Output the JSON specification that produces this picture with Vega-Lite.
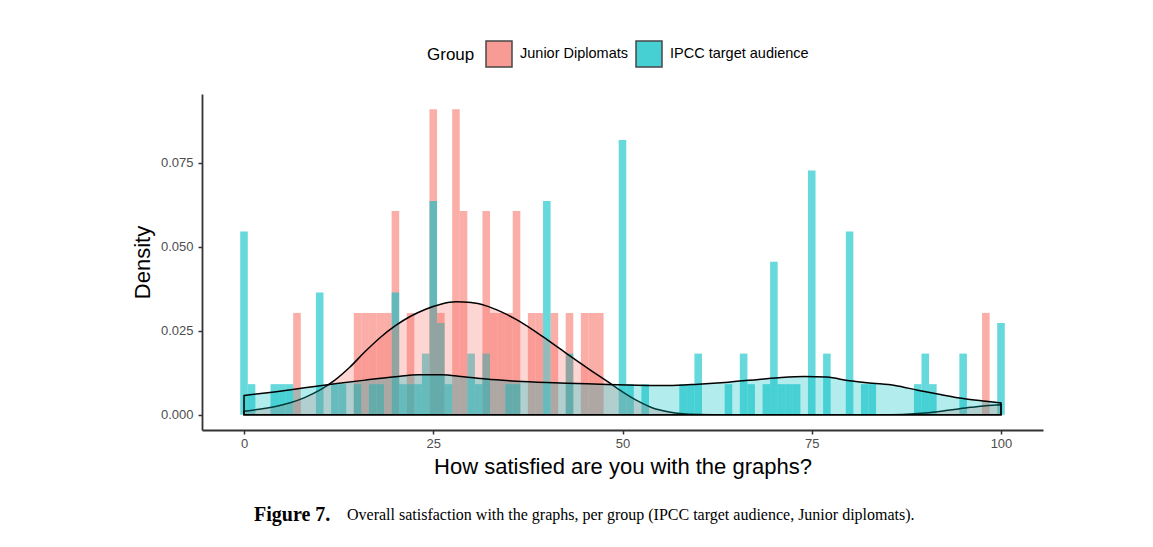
{
  "$schema": "https://vega.github.io/schema/vega-lite/v6.json",
  "background": "white",
  "padding": {"left": 131, "top": 40, "right": 5, "bottom": 5},
  "autosize": {"type": "pad"},
  "datasets": {
    "bars": [
      {"group": "Junior Diplomats", "score": 7, "density": 0.0303},
      {"group": "Junior Diplomats", "score": 15, "density": 0.0303},
      {"group": "Junior Diplomats", "score": 16, "density": 0.0303},
      {"group": "Junior Diplomats", "score": 17, "density": 0.0303},
      {"group": "Junior Diplomats", "score": 18, "density": 0.0303},
      {"group": "Junior Diplomats", "score": 19, "density": 0.0303},
      {"group": "Junior Diplomats", "score": 20, "density": 0.0606},
      {"group": "Junior Diplomats", "score": 22, "density": 0.0303},
      {"group": "Junior Diplomats", "score": 25, "density": 0.0909},
      {"group": "Junior Diplomats", "score": 26, "density": 0.0303},
      {"group": "Junior Diplomats", "score": 28, "density": 0.0909},
      {"group": "Junior Diplomats", "score": 29, "density": 0.0606},
      {"group": "Junior Diplomats", "score": 32, "density": 0.0606},
      {"group": "Junior Diplomats", "score": 33, "density": 0.0303},
      {"group": "Junior Diplomats", "score": 34, "density": 0.0303},
      {"group": "Junior Diplomats", "score": 35, "density": 0.0303},
      {"group": "Junior Diplomats", "score": 36, "density": 0.0606},
      {"group": "Junior Diplomats", "score": 38, "density": 0.0303},
      {"group": "Junior Diplomats", "score": 39, "density": 0.0303},
      {"group": "Junior Diplomats", "score": 41, "density": 0.0303},
      {"group": "Junior Diplomats", "score": 43, "density": 0.0303},
      {"group": "Junior Diplomats", "score": 45, "density": 0.0303},
      {"group": "Junior Diplomats", "score": 46, "density": 0.0303},
      {"group": "Junior Diplomats", "score": 47, "density": 0.0303},
      {"group": "Junior Diplomats", "score": 98, "density": 0.0303},
      {"group": "IPCC target audience", "score": 0, "density": 0.0545},
      {"group": "IPCC target audience", "score": 1, "density": 0.0091},
      {"group": "IPCC target audience", "score": 4, "density": 0.0091},
      {"group": "IPCC target audience", "score": 5, "density": 0.0091},
      {"group": "IPCC target audience", "score": 6, "density": 0.0091},
      {"group": "IPCC target audience", "score": 10, "density": 0.0364},
      {"group": "IPCC target audience", "score": 12, "density": 0.0091},
      {"group": "IPCC target audience", "score": 13, "density": 0.0091},
      {"group": "IPCC target audience", "score": 15, "density": 0.0091},
      {"group": "IPCC target audience", "score": 17, "density": 0.0091},
      {"group": "IPCC target audience", "score": 18, "density": 0.0091},
      {"group": "IPCC target audience", "score": 20, "density": 0.0364},
      {"group": "IPCC target audience", "score": 21, "density": 0.0091},
      {"group": "IPCC target audience", "score": 22, "density": 0.0091},
      {"group": "IPCC target audience", "score": 23, "density": 0.0091},
      {"group": "IPCC target audience", "score": 24, "density": 0.0182},
      {"group": "IPCC target audience", "score": 25, "density": 0.0636},
      {"group": "IPCC target audience", "score": 26, "density": 0.0273},
      {"group": "IPCC target audience", "score": 27, "density": 0.0091},
      {"group": "IPCC target audience", "score": 30, "density": 0.0182},
      {"group": "IPCC target audience", "score": 31, "density": 0.0091},
      {"group": "IPCC target audience", "score": 32, "density": 0.0182},
      {"group": "IPCC target audience", "score": 35, "density": 0.0091},
      {"group": "IPCC target audience", "score": 36, "density": 0.0091},
      {"group": "IPCC target audience", "score": 40, "density": 0.0636},
      {"group": "IPCC target audience", "score": 43, "density": 0.0182},
      {"group": "IPCC target audience", "score": 50, "density": 0.0818},
      {"group": "IPCC target audience", "score": 51, "density": 0.0091},
      {"group": "IPCC target audience", "score": 53, "density": 0.0091},
      {"group": "IPCC target audience", "score": 58, "density": 0.0091},
      {"group": "IPCC target audience", "score": 59, "density": 0.0091},
      {"group": "IPCC target audience", "score": 60, "density": 0.0182},
      {"group": "IPCC target audience", "score": 64, "density": 0.0091},
      {"group": "IPCC target audience", "score": 66, "density": 0.0182},
      {"group": "IPCC target audience", "score": 67, "density": 0.0091},
      {"group": "IPCC target audience", "score": 69, "density": 0.0091},
      {"group": "IPCC target audience", "score": 70, "density": 0.0455},
      {"group": "IPCC target audience", "score": 71, "density": 0.0091},
      {"group": "IPCC target audience", "score": 72, "density": 0.0091},
      {"group": "IPCC target audience", "score": 73, "density": 0.0091},
      {"group": "IPCC target audience", "score": 75, "density": 0.0727},
      {"group": "IPCC target audience", "score": 77, "density": 0.0182},
      {"group": "IPCC target audience", "score": 80, "density": 0.0545},
      {"group": "IPCC target audience", "score": 82, "density": 0.0091},
      {"group": "IPCC target audience", "score": 83, "density": 0.0091},
      {"group": "IPCC target audience", "score": 89, "density": 0.0091},
      {"group": "IPCC target audience", "score": 90, "density": 0.0182},
      {"group": "IPCC target audience", "score": 91, "density": 0.0091},
      {"group": "IPCC target audience", "score": 95, "density": 0.0182},
      {"group": "IPCC target audience", "score": 100, "density": 0.0273}
    ],
    "dens": [
      {"group": "Junior Diplomats", "score": 0, "density": 0.0010},
      {"group": "Junior Diplomats", "score": 2, "density": 0.0016},
      {"group": "Junior Diplomats", "score": 4, "density": 0.0024},
      {"group": "Junior Diplomats", "score": 6, "density": 0.0035},
      {"group": "Junior Diplomats", "score": 8, "density": 0.0051},
      {"group": "Junior Diplomats", "score": 10, "density": 0.0073},
      {"group": "Junior Diplomats", "score": 12, "density": 0.0103},
      {"group": "Junior Diplomats", "score": 14, "density": 0.0142},
      {"group": "Junior Diplomats", "score": 16, "density": 0.0188},
      {"group": "Junior Diplomats", "score": 18, "density": 0.0230},
      {"group": "Junior Diplomats", "score": 20, "density": 0.0265},
      {"group": "Junior Diplomats", "score": 22, "density": 0.0293},
      {"group": "Junior Diplomats", "score": 24, "density": 0.0314},
      {"group": "Junior Diplomats", "score": 26, "density": 0.0329},
      {"group": "Junior Diplomats", "score": 28, "density": 0.0336},
      {"group": "Junior Diplomats", "score": 30, "density": 0.0334},
      {"group": "Junior Diplomats", "score": 32, "density": 0.0324},
      {"group": "Junior Diplomats", "score": 34, "density": 0.0306},
      {"group": "Junior Diplomats", "score": 36, "density": 0.0283},
      {"group": "Junior Diplomats", "score": 38, "density": 0.0255},
      {"group": "Junior Diplomats", "score": 40, "density": 0.0224},
      {"group": "Junior Diplomats", "score": 42, "density": 0.0192},
      {"group": "Junior Diplomats", "score": 44, "density": 0.0160},
      {"group": "Junior Diplomats", "score": 46, "density": 0.0129},
      {"group": "Junior Diplomats", "score": 48, "density": 0.0099},
      {"group": "Junior Diplomats", "score": 50, "density": 0.0068},
      {"group": "Junior Diplomats", "score": 52, "density": 0.0041},
      {"group": "Junior Diplomats", "score": 54, "density": 0.0020},
      {"group": "Junior Diplomats", "score": 56, "density": 0.0009},
      {"group": "Junior Diplomats", "score": 58, "density": 0.0003},
      {"group": "Junior Diplomats", "score": 60, "density": 0.0001},
      {"group": "Junior Diplomats", "score": 64, "density": 0.0000},
      {"group": "Junior Diplomats", "score": 84, "density": 0.0000},
      {"group": "Junior Diplomats", "score": 87, "density": 0.0001},
      {"group": "Junior Diplomats", "score": 90, "density": 0.0005},
      {"group": "Junior Diplomats", "score": 93, "density": 0.0013},
      {"group": "Junior Diplomats", "score": 96, "density": 0.0022},
      {"group": "Junior Diplomats", "score": 98, "density": 0.0027},
      {"group": "Junior Diplomats", "score": 100, "density": 0.0030},
      {"group": "IPCC target audience", "score": 0, "density": 0.0057},
      {"group": "IPCC target audience", "score": 4, "density": 0.0068},
      {"group": "IPCC target audience", "score": 8, "density": 0.0080},
      {"group": "IPCC target audience", "score": 12, "density": 0.0092},
      {"group": "IPCC target audience", "score": 16, "density": 0.0103},
      {"group": "IPCC target audience", "score": 20, "density": 0.0113},
      {"group": "IPCC target audience", "score": 23, "density": 0.0119},
      {"group": "IPCC target audience", "score": 26, "density": 0.0119},
      {"group": "IPCC target audience", "score": 29, "density": 0.0113},
      {"group": "IPCC target audience", "score": 32, "density": 0.0106},
      {"group": "IPCC target audience", "score": 36, "density": 0.0100},
      {"group": "IPCC target audience", "score": 40, "density": 0.0096},
      {"group": "IPCC target audience", "score": 44, "density": 0.0093},
      {"group": "IPCC target audience", "score": 48, "density": 0.0090},
      {"group": "IPCC target audience", "score": 52, "density": 0.0088},
      {"group": "IPCC target audience", "score": 56, "density": 0.0087},
      {"group": "IPCC target audience", "score": 60, "density": 0.0091},
      {"group": "IPCC target audience", "score": 64, "density": 0.0097},
      {"group": "IPCC target audience", "score": 68, "density": 0.0105},
      {"group": "IPCC target audience", "score": 71, "density": 0.0111},
      {"group": "IPCC target audience", "score": 74, "density": 0.0114},
      {"group": "IPCC target audience", "score": 77, "density": 0.0112},
      {"group": "IPCC target audience", "score": 80, "density": 0.0101},
      {"group": "IPCC target audience", "score": 83, "density": 0.0094},
      {"group": "IPCC target audience", "score": 86, "density": 0.0087},
      {"group": "IPCC target audience", "score": 89, "density": 0.0073},
      {"group": "IPCC target audience", "score": 92, "density": 0.0060},
      {"group": "IPCC target audience", "score": 95, "density": 0.0048},
      {"group": "IPCC target audience", "score": 98, "density": 0.0040},
      {"group": "IPCC target audience", "score": 100, "density": 0.0035}
    ]
  },
  "title": {
    "text": "Figure 7.",
    "orient": "bottom",
    "anchor": "start",
    "frame": "group",
    "font": "Liberation Serif",
    "fontSize": 20,
    "fontWeight": "bold",
    "color": "black",
    "dx": 52,
    "offset": -18
  },
  "vconcat": [
    {
      "width": 841,
      "height": 336,
      "title": {
        "text": "Overall satisfaction with the graphs, per group (IPCC target audience, Junior diplomats).",
        "orient": "bottom",
        "anchor": "start",
        "frame": "group",
        "font": "Liberation Serif",
        "fontSize": 16,
        "fontWeight": "normal",
        "color": "black",
        "dx": 145,
        "offset": 30
      },
      "layer": [
        {
          "data": {"name": "bars"},
          "transform": [
            {"bin": {"step": 1, "anchor": 0.5, "extent": [-0.5, 100.5], "nice": false}, "field": "score", "as": ["lo", "hi"]}
          ],
          "mark": {"type": "bar", "fillOpacity": 0.6},
          "encoding": {
            "x": {
              "field": "lo", "type": "quantitative",
              "scale": {"domain": [-5.55, 105.55], "nice": false, "zero": false},
              "axis": {"title": "How satisfied are you with the graphs?", "values": [0, 25, 50, 75, 100], "labelPadding": 3, "titlePadding": 6}
            },
            "x2": {"field": "hi"},
            "y": {
              "field": "density", "type": "quantitative",
              "scale": {"domain": [-0.004545, 0.095455], "nice": false, "zero": false},
              "axis": {"title": "Density", "values": [0, 0.025, 0.05, 0.075], "format": ".3f", "labelPadding": 5, "titlePadding": 6}
            },
            "y2": {"datum": 0},
            "fill": {
              "field": "group", "type": "nominal",
              "scale": {"domain": ["Junior Diplomats", "IPCC target audience"], "range": ["#F8766D", "#00BFC4"]},
              "legend": {"title": "Group"}
            }
          }
        },
        {
          "data": {"name": "dens"},
          "transform": [{"filter": "datum.group === 'Junior Diplomats'"}],
          "mark": {"type": "area", "interpolate": "monotone", "fill": "#F8766D", "fillOpacity": 0.3, "stroke": "black", "strokeWidth": 1.5},
          "encoding": {
            "x": {"field": "score", "type": "quantitative", "title": "How satisfied are you with the graphs?"},
            "y": {"field": "density", "type": "quantitative", "stack": null, "title": "Density"},
            "y2": {"datum": 0}
          }
        },
        {
          "data": {"name": "dens"},
          "transform": [{"filter": "datum.group === 'IPCC target audience'"}],
          "mark": {"type": "area", "interpolate": "monotone", "fill": "#00BFC4", "fillOpacity": 0.3, "stroke": "black", "strokeWidth": 1.5},
          "encoding": {
            "x": {"field": "score", "type": "quantitative", "title": "How satisfied are you with the graphs?"},
            "y": {"field": "density", "type": "quantitative", "stack": null, "title": "Density"},
            "y2": {"datum": 0}
          }
        }
      ]
    }
  ],
  "config": {
    "view": {"stroke": null},
    "axis": {
      "grid": false,
      "domainColor": "#333333",
      "domainWidth": 1.8,
      "tickColor": "#333333",
      "tickWidth": 1.5,
      "tickSize": 4,
      "labelColor": "#4d4d4d",
      "labelFont": "Liberation Sans",
      "labelFontSize": 13,
      "titleFont": "Liberation Sans",
      "titleFontSize": 22,
      "titleFontWeight": "normal",
      "titleColor": "black"
    },
    "legend": {
      "orient": "none",
      "legendX": 225,
      "legendY": -54,
      "direction": "horizontal",
      "titleOrient": "left",
      "titleFont": "Liberation Sans",
      "titleFontSize": 17,
      "titleFontWeight": "normal",
      "titleColor": "black",
      "titleBaseline": "middle",
      "titlePadding": 10,
      "labelFont": "Liberation Sans",
      "labelFontSize": 14.5,
      "labelColor": "black",
      "labelOffset": 7,
      "columnPadding": 5,
      "symbolType": "square",
      "symbolSize": 676,
      "symbolStrokeColor": "black",
      "symbolStrokeWidth": 1.5,
      "symbolOpacity": 0.72
    }
  }
}
